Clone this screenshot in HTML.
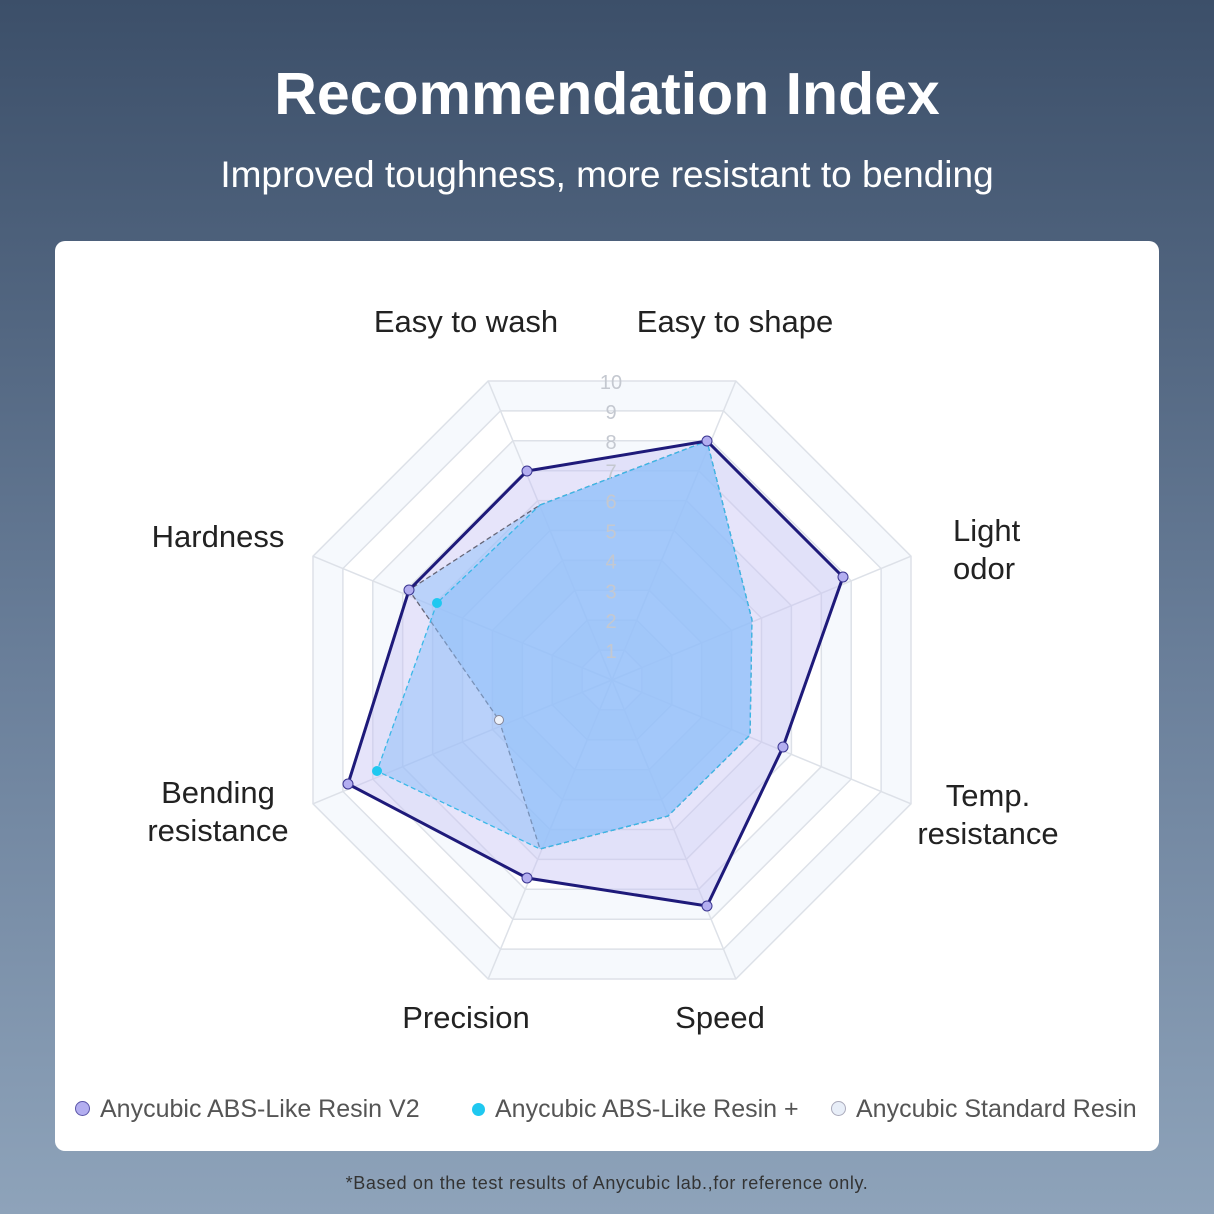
<!DOCTYPE html>
<html><head><style>
body{margin:0;width:1214px;height:1214px;overflow:hidden;background:linear-gradient(#3c4f69,#6a7f9a 55%,#8ea3ba);font-family:"Liberation Sans",sans-serif;position:relative}
.t{position:absolute;left:0;width:1214px;text-align:center;color:#fff}
.card{position:absolute;left:55px;top:241px;width:1104px;height:910px;background:#fff;border-radius:10px}
.lb{position:absolute;font-size:31px;color:#222;line-height:38px;text-align:center}
.lg{position:absolute;top:1095px;font-size:25px;color:#555}
.dot{display:inline-block;width:13px;height:13px;border-radius:50%;margin-right:10px;vertical-align:1px}
</style></head><body>
<div class="t" style="top:60px;font-size:59px;font-weight:bold">Recommendation Index</div>
<div class="t" style="top:154px;font-size:37px">Improved toughness, more resistant to bending</div>
<div class="card"></div>
<svg id="s" width="1214" height="1214" style="position:absolute;left:0;top:0"></svg>
<div class="lb" style="left:360px;top:303px;width:212px">Easy to wash</div>
<div class="lb" style="left:630px;top:303px;width:210px">Easy to shape</div>
<div class="lb" style="left:140px;top:518px;width:156px">Hardness</div>
<div class="lb" style="top:512px;width:90px;text-align:left;left:953px">Light<br>odor</div>
<div class="lb" style="left:130px;top:774px;width:176px">Bending<br>resistance</div>
<div class="lb" style="left:900px;top:777px;width:176px">Temp.<br>resistance</div>
<div class="lb" style="left:380px;top:999px;width:172px">Precision</div>
<div class="lb" style="left:660px;top:999px;width:120px">Speed</div>
<div class="lg" style="left:75px"><span class="dot" style="background:#b3aef0;border:1px solid #5a55a8"></span>Anycubic ABS-Like Resin V2</div>
<div class="lg" style="left:472px"><span class="dot" style="background:#1fc8f0"></span>Anycubic ABS-Like Resin +</div>
<div class="lg" style="left:831px"><span class="dot" style="background:#e8eef8;border:1px solid #aab"></span>Anycubic Standard Resin</div>
<div class="t" style="top:1173px;font-size:18px;color:#333;letter-spacing:0.6px">*Based on the test results of Anycubic lab.,for reference only.</div>
<script>
var cx=612,cy=680,ap=29.9,h='';
function ring(k){var R=ap*k/Math.cos(Math.PI/8),p=[];for(var i=0;i<8;i++){var a=(-112.5+45*i)*Math.PI/180;p.push((cx+R*Math.cos(a)).toFixed(1)+','+(cy+R*Math.sin(a)).toFixed(1));}return p.join(' ');}
for(var k=10;k>=1;k--)h+='<polygon points="'+ring(k)+'" fill="'+(k%2?'#fff':'#f6f9fd')+'" stroke="#dde1e8" stroke-width="1.5"/>';
var R10=ap*10/Math.cos(Math.PI/8);for(var i=0;i<8;i++){var a=(-112.5+45*i)*Math.PI/180;h+='<line x1="'+cx+'" y1="'+cy+'" x2="'+(cx+R10*Math.cos(a))+'" y2="'+(cy+R10*Math.sin(a))+'" stroke="#dde1e8" stroke-width="1.5"/>';}
var st='527,471 707,441 843,577 783,747 707,906 527,878 348,784 409,590';
var cy2='540,505 707,441 752,620 750,735 668,816 540,849 377,771 437,603';
var sd='540,505 707,441 752,620 750,735 668,816 540,849 499,720 409,590';
h+='<polygon points="'+st+'" fill="rgba(200,195,245,0.45)"/>';
h+='<polygon points="'+sd+'" fill="rgba(150,195,250,0.55)" stroke="#667" stroke-width="1.3" stroke-dasharray="5,3"/>';
h+='<polygon points="'+cy2+'" fill="rgba(140,190,250,0.5)" stroke="#3ab8e8" stroke-width="1.3" stroke-dasharray="5,3"/>';
for(var k=1;k<=10;k++)h+='<text x="611" y="'+(cy-ap*k+8)+'" font-size="20" fill="#c4c8d0" text-anchor="middle" font-family="Liberation Sans">'+k+'</text>';
h+='<polygon points="'+st+'" fill="none" stroke="#1e1a7a" stroke-width="3"/>';
st.split(' ').forEach(function(p){p=p.split(',');h+='<circle cx="'+p[0]+'" cy="'+p[1]+'" r="5" fill="#b3aef0" stroke="#3a3590" stroke-width="1"/>';});
h+='<circle cx="437" cy="603" r="5" fill="#1fc8f0"/><circle cx="377" cy="771" r="5" fill="#1fc8f0"/>';
h+='<circle cx="499" cy="720" r="4.5" fill="#eef2fa" stroke="#889" stroke-width="1"/>';
document.getElementById('s').innerHTML=h;
</script>
</body></html>
